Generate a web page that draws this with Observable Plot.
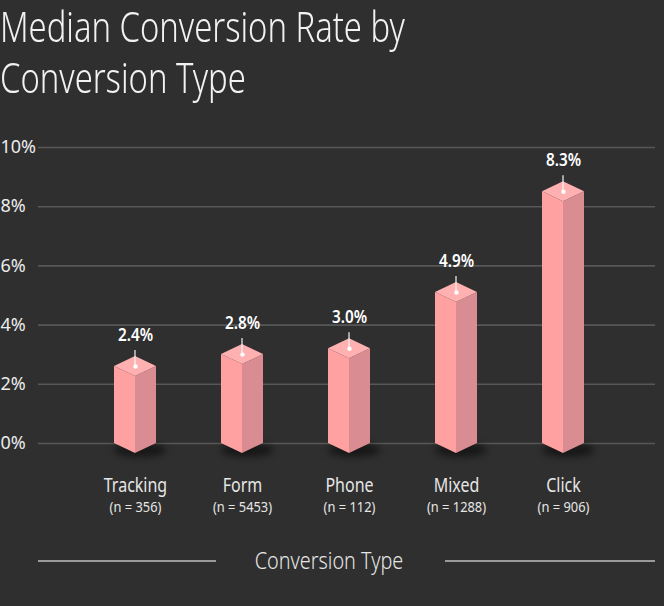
<!DOCTYPE html>
<html>
<head>
<meta charset="utf-8">
<script src="https://cdn.jsdelivr.net/npm/d3@7"></script>
<script src="https://cdn.jsdelivr.net/npm/@observablehq/plot@0.6"></script>
<style>
  html, body { margin: 0; padding: 0; background: #2f2f2f; width: 664px; height: 606px; overflow: hidden; }
  .narrow { font-family: "Noto Sans", sans-serif; }
  .tline { position: absolute; left: 0; font-size: 42px; line-height: 50px; height: 50px; color: #f2f2f2; font-weight: 300;
           white-space: nowrap; transform: scaleX(0.78); transform-origin: 0 0; }
  #chart { position: absolute; left: 0; top: 110px; }
  .xline { position: absolute; top: 560px; height: 1.5px; background: #9a9a9a; }
  #xtitle { position: absolute; left: 329px; top: 544px; line-height: 32px; color: #e6e6e6; font-size: 23px; font-weight: 300;
            white-space: nowrap; transform: translateX(-50%) scaleX(0.86); }
</style>
</head>
<body>
<div class="tline narrow" style="top:1px">Median Conversion Rate by</div>
<div class="tline narrow" style="top:52px">Conversion Type</div>
<div id="chart"></div>
<div class="xline" style="left:38px;width:178px"></div>
<div class="xline" style="left:445px;width:210px"></div>
<div id="xtitle" class="narrow">Conversion Type</div>
<script>
const categories = ["Tracking", "Form", "Phone", "Mixed", "Click"];
const counts = [356, 5453, 112, 1288, 906];
const rates = [2.4, 2.8, 3.0, 4.9, 8.3];
const yTicks = [0, 2, 4, 6, 8, 10];

const rows = categories.map((c, i) => ({category: c, n: counts[i], rate: rates[i]}));

const NARROW = "'Noto Sans', sans-serif";

function bars3d(index, scales, values, dimensions, context) {
  const X = typeof scales.x === "function" ? scales.x : (scales.scales && scales.scales.x) || (v => scales.x.apply(v));
  const Y = typeof scales.y === "function" ? scales.y : (scales.scales && scales.scales.y) || (v => scales.y.apply(v));
  const g = d3.create("svg:g");
  const defs = g.append("defs");
  const f = defs.append("filter").attr("id", "barShadow").attr("x", "-50%").attr("y", "-100%").attr("width", "200%").attr("height", "300%");
  f.append("feGaussianBlur").attr("stdDeviation", 3.5);
  const w = 21, d = 10, up = 6;
  rows.forEach(r => {
    const cx = X(r.category), yv = Y(r.rate), y0 = Y(0);
    g.append("ellipse").attr("cx", cx + 5).attr("cy", y0 + 7).attr("rx", 26).attr("ry", 7)
      .attr("fill", "#000").attr("opacity", 0.5).attr("filter", "url(#barShadow)");
    const pts = a => a.map(p => p.join(",")).join(" ");
    g.append("polygon").attr("points", pts([[cx - w, yv - up], [cx, yv - up + d], [cx, y0 + d], [cx - w, y0]])).attr("fill", "#ffa1a1");
    g.append("polygon").attr("points", pts([[cx, yv - up + d], [cx + w, yv - up], [cx + w, y0], [cx, y0 + d]])).attr("fill", "#d98c91");
    g.append("polygon").attr("points", pts([[cx - w, yv - up], [cx, yv - up - d], [cx + w, yv - up], [cx, yv - up + d]])).attr("fill", "#ffb0b0");
    g.append("line").attr("x1", cx).attr("x2", cx).attr("y1", yv - up).attr("y2", yv - up - 16)
      .attr("stroke", "#f4f4f4").attr("stroke-width", 1.2);
  });
  return g.node();
}

const chart = Plot.plot({
  width: 664,
  height: 420,
  marginLeft: 38,
  marginRight: 9,
  marginTop: 37,
  marginBottom: 87,
  style: {background: "transparent", color: "#eee", overflow: "visible"},
  x: {type: "point", domain: categories, range: [133, 564], padding: 0, axis: null},
  y: {domain: [0, 10], axis: null},
  marks: [
    Plot.ruleY(yTicks, {y: d => d, stroke: "#575757", strokeWidth: 1.6}),
    Plot.text(yTicks, {y: d => d, frameAnchor: "left", dx: -38, textAnchor: "start", text: d => d + "%",
      fill: "#ececec", fontSize: 18, fontFamily: "Noto Sans"}),
    bars3d,
    Plot.dot(rows, {x: "category", y: "rate", dy: -6, r: 2.2, fill: "#ffffff", stroke: "none"}),
    Plot.text(rows, {x: "category", y: "rate", dy: -37, text: d => d.rate.toFixed(1) + "%",
      fill: "#ffffff", fontSize: 17, fontWeight: 600, fontFamily: NARROW}),
    Plot.text(rows, {x: "category", frameAnchor: "bottom", dy: 48.5, text: "category",
      fill: "#e6e6e6", fontSize: 20, fontFamily: NARROW}),
    Plot.text(rows, {x: "category", frameAnchor: "bottom", dy: 68, text: d => `(n = ${d.n})`,
      fill: "#e6e6e6", fontSize: 14, fontFamily: NARROW})
  ]
});
// Condense the narrow-font labels horizontally about their anchor points
const squeeze = {20: 0.8, 17: 0.9, 14: 0.92};
d3.select(chart).selectAll(`g[font-family="${NARROW}"]`).each(function() {
  const s = squeeze[+this.getAttribute("font-size")] || 0.85;
  d3.select(this).selectAll("text").attr("transform", function() {
    return (this.getAttribute("transform") || "") + ` scale(${s},1)`;
  });
});
document.getElementById("chart").appendChild(chart);
</script>
</body>
</html>
